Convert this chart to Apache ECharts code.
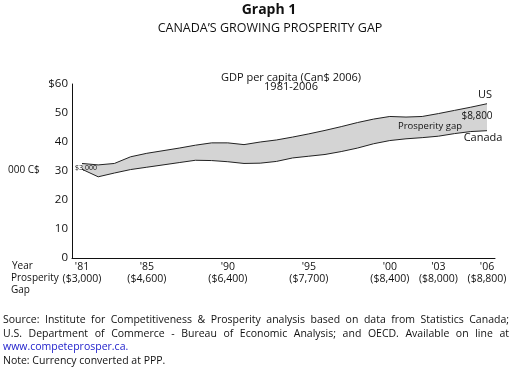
<!DOCTYPE html>
<html>
<head>
<meta charset="utf-8">
<script src="https://cdn.jsdelivr.net/npm/echarts@6/dist/echarts.min.js"></script>
<style>
  html, body { margin: 0; padding: 0; background: #fff; }
  #chart { width: 512px; height: 381px; }
</style>
</head>
<body>
<div id="chart"></div>
<script>
// data (thousands of 2006 C$ per capita)
var years = [1981, 1982, 1983, 1984, 1985, 1986, 1987, 1988, 1989, 1990, 1991, 1992, 1993,
             1994, 1995, 1996, 1997, 1998, 1999, 2000, 2001, 2002, 2003, 2004, 2005, 2006];
var canada = [30.6, 28.0, 29.3, 30.5, 31.3, 32.1, 32.9, 33.7, 33.6, 33.2, 32.6, 32.7, 33.3,
              34.5, 35.1, 35.7, 36.7, 37.9, 39.4, 40.5, 41.1, 41.5, 42.0, 42.9, 43.6, 43.9];
var us = [32.6, 32.1, 32.6, 34.9, 36.1, 37.0, 37.9, 38.9, 39.7, 39.7, 39.1, 40.0, 40.7,
          41.7, 42.8, 44.0, 45.3, 46.7, 47.9, 48.8, 48.6, 48.8, 49.8, 50.9, 52.0, 53.2];

var tickYears = [1981, 1985, 1990, 1995, 2000, 2003, 2006];
var tickLabels = ["'81", "'85", "'90", "'95", "'00", "'03", "'06"];
var gapLabels = ['($3,000)', '($4,600)', '($6,400)', '($7,700)', '($8,400)', '($8,000)', '($8,800)'];

var sourceLines = [
    'Source: Institute for Competitiveness & Prosperity analysis based on data from Statistics Canada;',
    'U.S. Department of Commerce - Bureau of Economic Analysis; and OECD. Available on line at'
];

var FONT = 'Open Sans';
var INK = '#111';
var NOTE_FONT = '10.5px ' + FONT;

// x scale: 16.2 px a year, axis runs 10 px past '81 on the left (keeps year edges on whole pixels)
var PX_YEAR = 16.2;
var X_MIN = 1981 - 10 / PX_YEAR;
var X_MAX = X_MIN + 423 / PX_YEAR;

var canadaPts = years.map(function (y, i) { return [y, canada[i]]; });
var usPts = years.map(function (y, i) { return [y, us[i]]; });

// justify a footnote line across the page by spreading its words
var measure = document.createElement('canvas').getContext('2d');
measure.font = NOTE_FONT;
function justified(line, x0, x1, y) {
    var words = line.split(' ');
    var total = 0;
    words.forEach(function (w) { total += measure.measureText(w).width; });
    var gap = (x1 - x0 - total) / (words.length - 1);
    var x = x0;
    return words.map(function (w) {
        var el = { type: 'text', x: x, y: y, z: 100, style: { text: w, font: NOTE_FONT, fill: INK, verticalAlign: 'middle' } };
        x += measure.measureText(w).width + gap;
        return el;
    });
}

function label(text, x, y, font, align) {
    return { type: 'text', x: x, y: y, z: 100,
             style: { text: text, font: font, fill: INK, align: align || 'left', verticalAlign: 'middle' } };
}

var chart = echarts.init(document.getElementById('chart'), null, { renderer: 'canvas' });

var graphics = [
    label('Graph 1', 269, 10, 'bold 14px ' + FONT, 'center'),
    label('CANADA\u2019S GROWING PROSPERITY GAP', 270, 28, '12.5px ' + FONT, 'center'),
    label('GDP per capita (Can$ 2006)', 291, 78, '11px ' + FONT, 'center'),
    label('1981-2006', 291, 87, '11px ' + FONT, 'center'),
    label('000 C$', 8, 170, '10px ' + FONT),
    label('Year', 12, 266, '10px ' + FONT),
    label('Prosperity', 11, 278, '10px ' + FONT),
    label('Gap', 11, 290, '10px ' + FONT),
    label('$3,000', 86, 168, '7px ' + FONT, 'center'),
    label('US', 485, 95, '11px ' + FONT, 'center'),
    label('$8,800', 477, 116, '10px ' + FONT, 'center'),
    label('Prosperity gap', 430, 126, '9.5px ' + FONT, 'center'),
    label('Canada', 483, 138, '11px ' + FONT, 'center'),
    { type: 'text', x: 3, y: 347, z: 100, style: { text: 'www.competeprosper.ca.', font: NOTE_FONT, fill: '#2222cc', verticalAlign: 'middle' } },
    label('Note: Currency converted at PPP.', 3, 361, NOTE_FONT)
];
graphics = graphics.concat(justified(sourceLines[0], 3, 509, 320), justified(sourceLines[1], 3, 509, 334));

var option = {
    backgroundColor: '#fff',
    animation: false,
    textStyle: { fontFamily: FONT, color: INK },
    grid: { left: 72, right: 17, top: 84, bottom: 123 },
    xAxis: {
        type: 'value',
        min: X_MIN,
        max: X_MAX,
        z: 10,
        splitLine: { show: false },
        axisTick: { show: false },
        axisLine: { lineStyle: { color: INK, width: 1 } },
        axisLabel: {
            customValues: tickYears,
            margin: 3,
            fontFamily: FONT,
            fontSize: 10.5,
            lineHeight: 12,
            color: INK,
            formatter: function (v) {
                var i = tickYears.indexOf(Math.round(v));
                return i < 0 ? '' : tickLabels[i] + '\n' + gapLabels[i];
            }
        }
    },
    yAxis: {
        type: 'value',
        min: 0,
        max: 60,
        interval: 10,
        z: 10,
        splitLine: { show: false },
        axisTick: { show: false },
        axisLine: { show: true, lineStyle: { color: INK, width: 1 } },
        axisLabel: {
            margin: 4,
            fontFamily: FONT,
            fontSize: 11.5,
            color: INK,
            formatter: function (v) { return v === 60 ? '$60' : String(v); }
        }
    },
    series: [
        {
            name: 'US',
            type: 'line',
            data: usPts,
            symbol: 'none',
            lineStyle: { color: '#222', width: 1 },
            areaStyle: { color: '#d4d4d4', opacity: 1 },
            z: 2
        },
        {
            name: 'Canada',
            type: 'line',
            data: canadaPts,
            symbol: 'none',
            lineStyle: { color: '#222', width: 1 },
            areaStyle: { color: '#ffffff', opacity: 1 },
            z: 3
        }
    ],
    graphic: graphics
};

chart.setOption(option);
</script>
</body>
</html>
